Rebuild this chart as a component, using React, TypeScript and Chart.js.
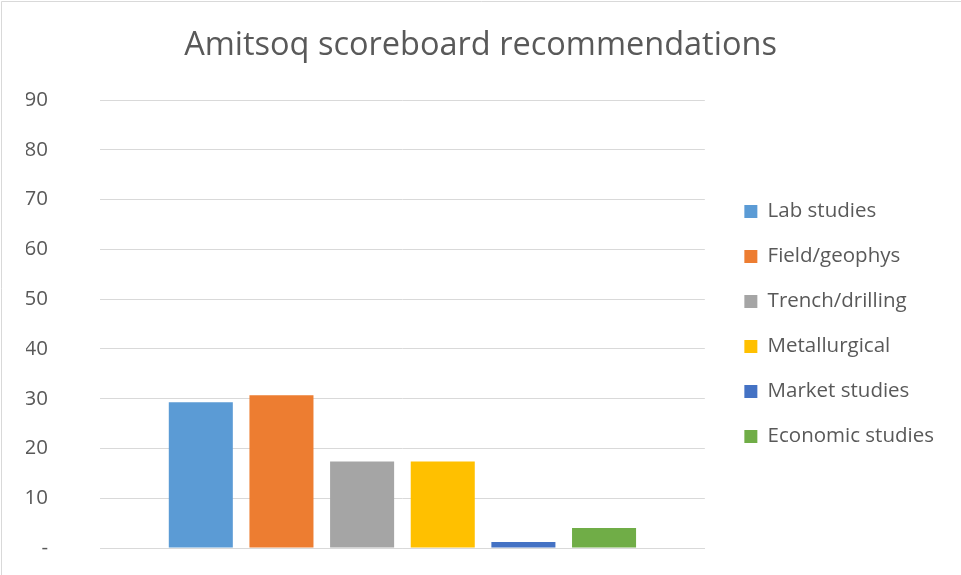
import React, { useEffect, useRef } from "react";
import { Chart, registerables } from "chart.js";

Chart.register(...registerables);

const categories: string[] = [""];
const seriesNames: string[] = [
  "Lab studies",
  "Field/geophys",
  "Trench/drilling",
  "Metallurgical",
  "Market studies",
  "Economic studies",
];
const seriesValues: number[] = [29.3, 30.7, 17.4, 17.4, 1.2, 4.0];
const seriesColors: string[] = ["#5B9BD5", "#ED7D31", "#A5A5A5", "#FFC000", "#4472C4", "#70AD47"];
const yTicks: number[] = [0, 10, 20, 30, 40, 50, 60, 70, 80, 90];

const TEXT = "#595959";
const GRID = "#D9D9D9";
const FONT = "'Open Sans', sans-serif";

export default function App() {
  const ref = useRef<HTMLCanvasElement | null>(null);

  useEffect(() => {
    document.body.style.margin = "0";
    if (!ref.current) return;

    const frame = {
      id: "frame",
      beforeDraw(chart: any) {
        const ctx = chart.ctx;
        ctx.save();
        ctx.fillStyle = "#ffffff";
        ctx.fillRect(0, 0, chart.width, chart.height);
        ctx.strokeStyle = GRID;
        ctx.lineWidth = 1;
        ctx.beginPath();
        ctx.moveTo(1.5, chart.height);
        ctx.lineTo(1.5, 1.5);
        ctx.lineTo(chart.width, 1.5);
        ctx.stroke();
        ctx.restore();
      },
      afterLayout(chart: any) {
        const area = chart.chartArea;
        const lg = chart.legend;
        if (lg) {
          const shift = 15 - (lg.left - area.right);
          lg.left += shift;
          lg.right += shift;
          lg.top = area.top;
          lg.bottom = area.bottom;
          lg.height = area.bottom - area.top;
        }
        const tb = chart.titleBlock;
        if (tb) {
          tb.left = 0;
          tb.right = chart.width;
          tb.width = chart.width;
        }
      },
    };

    const chart = new Chart(ref.current, {
      type: "bar",
      data: {
        labels: categories,
        datasets: seriesNames.map((name, i) => ({
          label: name,
          data: [seriesValues[i]],
          backgroundColor: seriesColors[i],
          borderWidth: 0,
          barPercentage: 0.794,
          categoryPercentage: 0.8,
        })),
      },
      options: {
        animation: false,
        responsive: false,
        maintainAspectRatio: false,
        layout: { padding: { left: 26, right: 32, top: 0, bottom: 27 } },
        plugins: {
          title: {
            display: true,
            text: "Amitsoq scoreboard recommendations",
            color: TEXT,
            font: { family: FONT, size: 32.5, weight: "normal", lineHeight: 1.2 },
            padding: { top: 26, bottom: 35 },
          },
          legend: {
            display: true,
            position: "right",
            align: "center",
            labels: {
              color: TEXT,
              font: { family: FONT, size: 20.5 },
              boxWidth: 13,
              boxHeight: 13,
              padding: 24.5,
            },
          },
          tooltip: { enabled: false },
        },
        scales: {
          x: {
            ticks: { display: false },
            grid: { display: false },
            border: { display: true, color: GRID, width: 1 },
            afterFit: (s: any) => {
              s.height = 0;
            },
          },
          y: {
            min: 0,
            max: 90,
            afterBuildTicks: (axis: any) => {
              axis.ticks = yTicks.map((v) => ({ value: v }));
            },
            ticks: {
              color: TEXT,
              font: { family: FONT, size: 20.5 },
              padding: 52,
              callback: (v: any) => (Number(v) === 0 ? "-" : String(v)),
            },
            grid: { color: GRID, lineWidth: 1, drawTicks: false },
            border: { display: false },
            afterFit: (s: any) => {
              s.width = 74;
              s.paddingTop = 0;
              s.paddingBottom = 0;
            },
          },
        },
      },
      plugins: [frame],
    });

    return () => chart.destroy();
  }, []);

  return (
    <div style={{ width: 961, height: 575 }}>
      <canvas ref={ref} width={961} height={575} style={{ display: "block" }} />
    </div>
  );
}
